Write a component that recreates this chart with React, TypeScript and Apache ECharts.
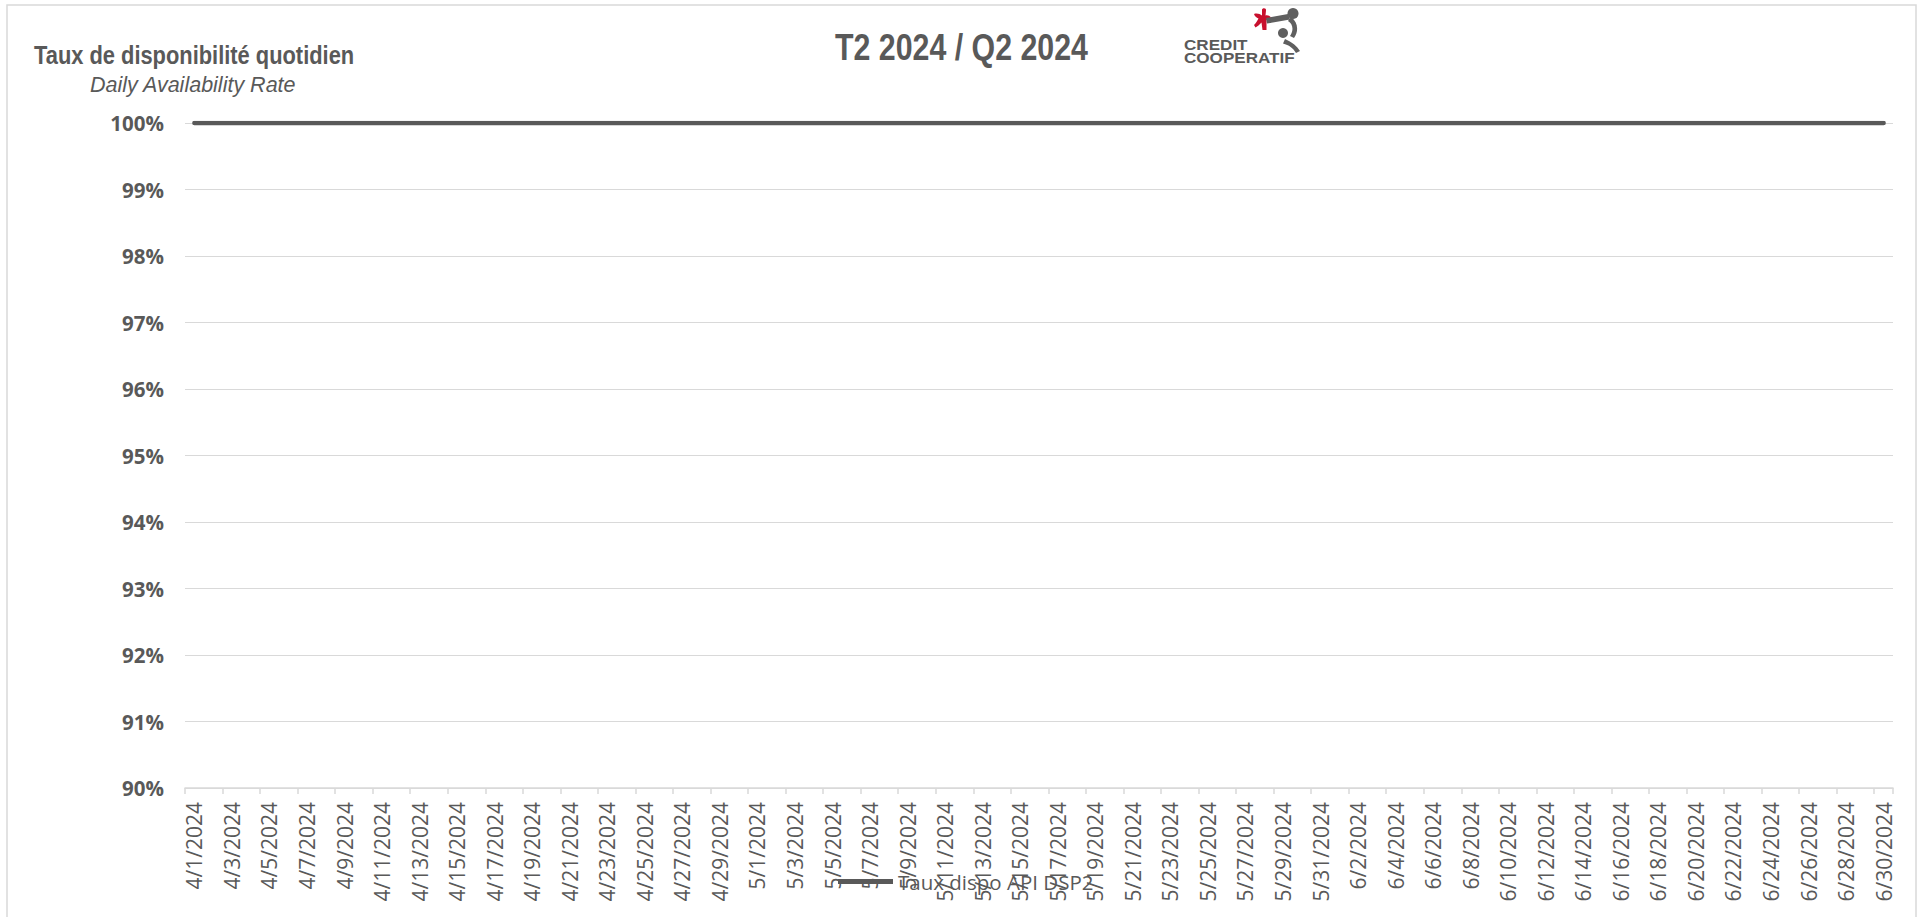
import React, { useEffect, useRef } from "react";
import * as echarts from "echarts";

const categories: string[] = [
  "4/1/2024", "4/2/2024", "4/3/2024", "4/4/2024", "4/5/2024", "4/6/2024", "4/7/2024", "4/8/2024", "4/9/2024", "4/10/2024",
  "4/11/2024", "4/12/2024", "4/13/2024", "4/14/2024", "4/15/2024", "4/16/2024", "4/17/2024", "4/18/2024", "4/19/2024", "4/20/2024",
  "4/21/2024", "4/22/2024", "4/23/2024", "4/24/2024", "4/25/2024", "4/26/2024", "4/27/2024", "4/28/2024", "4/29/2024", "4/30/2024",
  "5/1/2024", "5/2/2024", "5/3/2024", "5/4/2024", "5/5/2024", "5/6/2024", "5/7/2024", "5/8/2024", "5/9/2024", "5/10/2024",
  "5/11/2024", "5/12/2024", "5/13/2024", "5/14/2024", "5/15/2024", "5/16/2024", "5/17/2024", "5/18/2024", "5/19/2024", "5/20/2024",
  "5/21/2024", "5/22/2024", "5/23/2024", "5/24/2024", "5/25/2024", "5/26/2024", "5/27/2024", "5/28/2024", "5/29/2024", "5/30/2024",
  "5/31/2024",
  "6/1/2024", "6/2/2024", "6/3/2024", "6/4/2024", "6/5/2024", "6/6/2024", "6/7/2024", "6/8/2024", "6/9/2024", "6/10/2024",
  "6/11/2024", "6/12/2024", "6/13/2024", "6/14/2024", "6/15/2024", "6/16/2024", "6/17/2024", "6/18/2024", "6/19/2024", "6/20/2024",
  "6/21/2024", "6/22/2024", "6/23/2024", "6/24/2024", "6/25/2024", "6/26/2024", "6/27/2024", "6/28/2024", "6/29/2024", "6/30/2024",
];

// Daily availability (%) — 100% every day of the quarter
const availability: number[] = [
  100, 100, 100, 100, 100, 100, 100, 100, 100, 100,
  100, 100, 100, 100, 100, 100, 100, 100, 100, 100,
  100, 100, 100, 100, 100, 100, 100, 100, 100, 100,
  100, 100, 100, 100, 100, 100, 100, 100, 100, 100,
  100, 100, 100, 100, 100, 100, 100, 100, 100, 100,
  100, 100, 100, 100, 100, 100, 100, 100, 100, 100,
  100,
  100, 100, 100, 100, 100, 100, 100, 100, 100, 100,
  100, 100, 100, 100, 100, 100, 100, 100, 100, 100,
  100, 100, 100, 100, 100, 100, 100, 100, 100, 100,
];

const seriesName = "Taux dispo API DSP2";
const chartTitle = "T2 2024 / Q2 2024";
const yTitleFr = "Taux de disponibilité quotidien";
const yTitleEn = "Daily Availability Rate";
const logoLine1 = "CREDIT";
const logoLine2 = "COOPERATIF";
const yMin = 90;
const yMax = 100;
const yInterval = 1;

const GRAY = "#595959";
const GRID = "#d9d9d9";

export default function App() {
  const ref = useRef<HTMLDivElement>(null);

  useEffect(() => {
    document.body.style.margin = "0";
    document.body.style.overflow = "hidden";
    if (!ref.current) return;

    echarts.graphic.registerShape(
      "ccRed",
      echarts.graphic.extendPath(
        "M0 6 C3 5 6 6 8 7.5 L8 1.5 C9 -0.5 12.5 0 12 2.5 L11.5 7.5 C13.5 7 15.5 7.5 17 9.5 C15 11 13.5 11 12.5 12 L12.5 22 L8.5 22 L7.5 14.5 C5.5 16.5 3.5 18.5 1.5 19.5 L0 17 C2 15 3.5 12.5 4.5 10.5 C2.5 9.5 0.5 8.5 0 6 Z",
        {}
      )
    );
    echarts.graphic.registerShape(
      "ccGray",
      echarts.graphic.extendPath(
        "M0 8 L22 4 L24 9.5 L1 13.5 Z M25 7 C32 12 33 21 28 28 L24 26 C28 20 27 14 22 11 Z M19 29 C26 32 31 36 34 41 L30 43 C27 38 23 35 17 33.5 Z",
        {}
      )
    );

    const chart = echarts.init(ref.current, null, { renderer: "svg" });
    chart.setOption({
      animation: false,
      backgroundColor: "#ffffff",
      grid: { left: 185, right: 24, top: 123, bottom: 129, containLabel: false },
      legend: {
        data: [seriesName],
        left: 838,
        top: 871,
        padding: 0,
        icon: "rect",
        itemWidth: 55,
        itemHeight: 5,
        textStyle: { color: GRAY, fontFamily: "Open Sans", fontSize: 20.5 },
      },
      xAxis: {
        type: "category",
        data: categories,
        boundaryGap: true,
        axisLine: { show: true, lineStyle: { color: GRID, width: 1.5 } },
        axisTick: { show: true, interval: 1, length: 6, lineStyle: { color: GRID, width: 1.5 } },
        axisLabel: {
          interval: 1,
          rotate: 90,
          margin: 14,
          color: GRAY,
          fontFamily: "Open Sans",
          fontSize: 21,
        },
        splitLine: { show: false },
      },
      yAxis: {
        type: "value",
        min: yMin,
        max: yMax,
        interval: yInterval,
        axisLine: { show: false },
        axisTick: { show: false },
        axisLabel: {
          formatter: "{value}%",
          margin: 21,
          color: GRAY,
          fontFamily: "Open Sans",
          fontWeight: "bold",
          fontSize: 20.5,
        },
        splitLine: { show: true, lineStyle: { color: GRID, width: 1 } },
      },
      series: [
        {
          name: seriesName,
          type: "line",
          data: availability,
          symbol: "none",
          showSymbol: false,
          lineStyle: { color: GRAY, width: 4.5, cap: "round" },
          itemStyle: { color: GRAY },
          z: 5,
        },
      ],
      graphic: [
        {
          type: "rect",
          shape: { x: 7, y: 5, width: 1909, height: 930 },
          style: { fill: "none", stroke: GRID, lineWidth: 1.5 },
          silent: true,
          z: -1,
        },
        {
          type: "text",
          x: 835,
          y: 47,
          scaleX: 0.82,
          style: {
            text: chartTitle,
            fill: GRAY,
            fontFamily: "Liberation Sans",
            fontWeight: "bold",
            fontSize: 37,
            verticalAlign: "middle",
            align: "left",
          },
        },
        {
          type: "text",
          x: 34,
          y: 55,
          scaleX: 0.875,
          style: {
            text: yTitleFr,
            fill: GRAY,
            fontFamily: "Liberation Sans",
            fontWeight: "bold",
            fontSize: 25,
            verticalAlign: "middle",
            align: "left",
          },
        },
        {
          type: "text",
          x: 90,
          y: 85,
          style: {
            text: yTitleEn,
            fill: GRAY,
            fontFamily: "Liberation Sans",
            fontStyle: "italic",
            fontSize: 21.5,
            verticalAlign: "middle",
            align: "left",
          },
        },
        {
          type: "text",
          x: 1184,
          y: 45.5,
          scaleX: 1.22,
          style: {
            text: logoLine1,
            fill: "#5a5a5a",
            fontFamily: "Liberation Sans",
            fontWeight: "bold",
            fontSize: 14,
            verticalAlign: "middle",
            align: "left",
          },
        },
        {
          type: "text",
          x: 1184,
          y: 58,
          scaleX: 1.22,
          style: {
            text: logoLine2,
            fill: "#5a5a5a",
            fontFamily: "Liberation Sans",
            fontWeight: "bold",
            fontSize: 14,
            verticalAlign: "middle",
            align: "left",
          },
        },
        {
          type: "ccRed",
          x: 1254,
          y: 8,
          style: { fill: "#c8102e" },
        },
        {
          type: "ccGray",
          x: 1266,
          y: 10,
          style: { fill: "#5f5f5f" },
        },
        {
          type: "circle",
          shape: { cx: 1293, cy: 13.5, r: 5.5 },
          style: { fill: "#5f5f5f" },
        },
        {
          type: "circle",
          shape: { cx: 1283, cy: 33, r: 5 },
          style: { fill: "#5f5f5f" },
        },
      ],
    });

    return () => {
      chart.dispose();
    };
  }, []);

  return <div ref={ref} style={{ width: 1917, height: 917 }} />;
}
